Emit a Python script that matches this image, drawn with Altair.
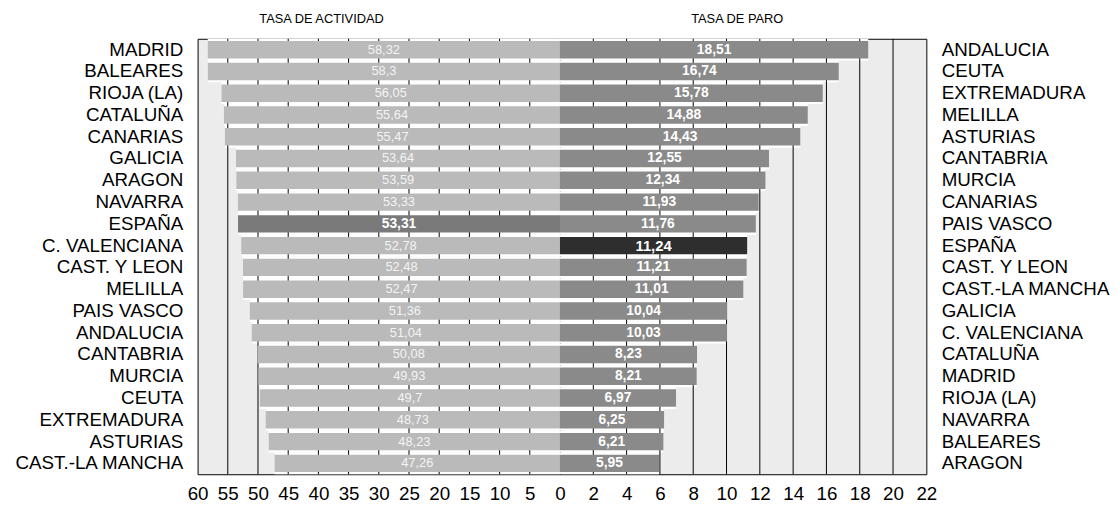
import altair as alt
import pandas as pd

FONT = "Liberation Sans"

# Left panel: TASA DE ACTIVIDAD
act_regions = ["MADRID", "BALEARES", "RIOJA (LA)", "CATALUÑA", "CANARIAS", "GALICIA",
               "ARAGON", "NAVARRA", "ESPAÑA", "C. VALENCIANA", "CAST. Y LEON", "MELILLA",
               "PAIS VASCO", "ANDALUCIA", "CANTABRIA", "MURCIA", "CEUTA", "EXTREMADURA",
               "ASTURIAS", "CAST.-LA MANCHA"]
act_values = [58.32, 58.3, 56.05, 55.64, 55.47, 53.64, 53.59, 53.33, 53.31, 52.78,
              52.48, 52.47, 51.36, 51.04, 50.08, 49.93, 49.7, 48.73, 48.23, 47.26]

# Right panel: TASA DE PARO
paro_regions = ["ANDALUCIA", "CEUTA", "EXTREMADURA", "MELILLA", "ASTURIAS", "CANTABRIA",
                "MURCIA", "CANARIAS", "PAIS VASCO", "ESPAÑA", "CAST. Y LEON",
                "CAST.-LA MANCHA", "GALICIA", "C. VALENCIANA", "CATALUÑA", "MADRID",
                "RIOJA (LA)", "NAVARRA", "BALEARES", "ARAGON"]
paro_values = [18.51, 16.74, 15.78, 14.88, 14.43, 12.55, 12.34, 11.93, 11.76, 11.24,
               11.21, 11.01, 10.04, 10.03, 8.23, 8.21, 6.97, 6.25, 6.21, 5.95]

left_ticks = [60, 55, 50, 45, 40, 35, 30, 25, 20, 15, 10, 5]
right_ticks = [0, 2, 4, 6, 8, 10, 12, 14, 16, 18, 20, 22]
left_grid = [5, 10, 15, 20, 25, 30, 35, 40, 45, 50, 55]
right_grid = [2, 4, 6, 8, 10, 12, 14, 16, 18, 20]


def fmt(v):
    return f"{v}".replace(".", ",")


def panel(regions, values, ticks, grid, domain, reverse, orient, title, title_dx,
          width, light, dark, text_color, text_weight, text_size):
    df = pd.DataFrame({"region": regions, "valor": values,
                       "label": [fmt(v) for v in values]})
    gdf = pd.DataFrame({"g": grid})
    xscale = alt.Scale(domain=domain, reverse=reverse, nice=False, zero=True)
    yscale = alt.Scale(paddingInner=0, paddingOuter=0)
    xaxis = alt.Axis(values=ticks, title=None, grid=False, ticks=False, domain=False,
                     labelFontSize=19, labelFont=FONT, labelPadding=11, labelFlush=False,
                     labelOverlap=False, labelColor="black")
    yaxis = alt.Axis(title=None, ticks=False, domain=False, labelFontSize=19,
                     labelFont=FONT, labelPadding=15, labelColor="black", orient=orient,
                     labelAlign="right" if orient == "left" else "left")
    X = lambda f: alt.X(f, scale=xscale, axis=xaxis, title=None)
    Y = alt.Y("region:N", sort=regions, scale=yscale, axis=yaxis, title=None)
    base = alt.Chart(df)
    white = base.mark_bar(color="white", height={"band": 1}).encode(
        x=X("valor:Q"), y=Y
    )
    rules = alt.Chart(gdf).mark_rule(color="black", strokeWidth=1).encode(
        x=X("g:Q")
    )
    bars = base.mark_bar(height={"band": 0.8}).encode(
        x=X("valor:Q"), y=Y,
        color=alt.condition(alt.datum.region == "ESPAÑA", alt.value(dark), alt.value(light)),
    )
    txt = base.transform_filter(alt.datum.region != "ESPAÑA").transform_calculate(
        mid="datum.valor / 2"
    ).mark_text(font=FONT, fontSize=text_size, color=text_color, fontWeight=text_weight,
                baseline="middle", align="center").encode(x=X("mid:Q"), y=Y, text="label:N")
    txt_es = base.transform_filter(alt.datum.region == "ESPAÑA").transform_calculate(
        mid="datum.valor / 2"
    ).mark_text(font=FONT, fontSize=text_size + 1, color="white", fontWeight="bold",
                baseline="middle", align="center").encode(x=X("mid:Q"), y=Y, text="label:N")
    return alt.layer(white, rules, bars, txt, txt_es).properties(
        width=width, height=441,
        title=alt.TitleParams(title, fontSize=13, font=FONT, fontWeight="normal",
                              color="black", anchor="middle", dx=title_dx, offset=12),
    )


left = panel(act_regions, act_values, left_ticks, left_grid, [0, 60], True, "left",
             "TASA DE ACTIVIDAD", -58, 367, "#bababa", "#7a7a7a", "#f4f4f4", "normal", 13)
right = panel(paro_regions, paro_values, right_ticks, right_grid, [0, 22], False, "right",
              "TASA DE PARO", -6, 371, "#8a8a8a", "#2e2e2e", "white", "bold", 14)

chart = alt.hconcat(left, right, spacing=0, bounds="flush").configure_view(
    stroke="black", strokeWidth=1, fill="#ececec"
).properties(
    padding={"left": 5, "top": 2, "right": 0, "bottom": 0}
)

chart.save("out.html", embed_options={"renderer": "svg", "actions": False})
